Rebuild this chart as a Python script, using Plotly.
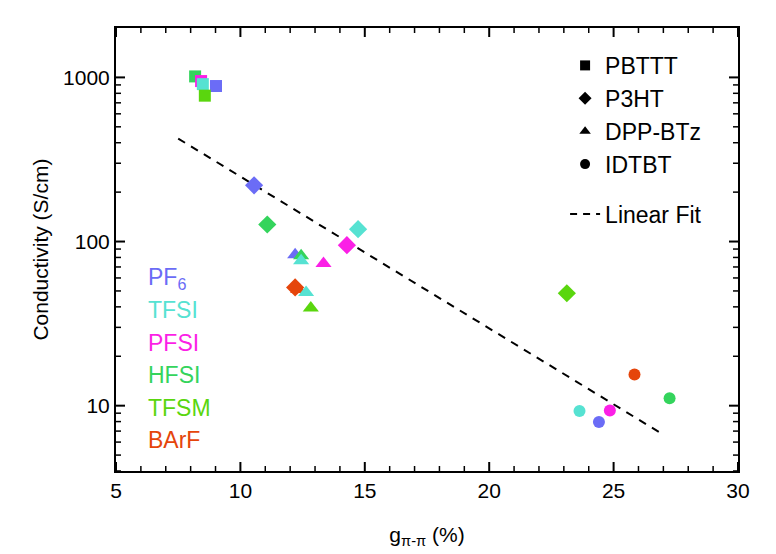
import math
import plotly.graph_objects as go

# anion colours
anions = ["PF6", "TFSI", "PFSI", "HFSI", "TFSM", "BArF"]
anion_labels = ["PF<sub>6</sub>", "TFSI", "PFSI", "HFSI", "TFSM", "BArF"]
anion_colors = ["#6b6cf6", "#56e2d2", "#fb1fe6", "#34d45c", "#5ad60e", "#e5450b"]
color_of = dict(zip(anions, anion_colors))

# PBTTT (squares)
pbttt_anion = ["HFSI", "PFSI", "TFSI", "PF6", "TFSM"]
pbttt_g = [8.18, 8.42, 8.49, 9.02, 8.57]
pbttt_cond = [1014, 950, 910, 886, 774]

# P3HT (diamonds)
p3ht_anion = ["PF6", "HFSI", "TFSI", "PFSI", "TFSM", "BArF"]
p3ht_g = [10.55, 11.08, 14.73, 14.28, 23.12, 12.2]
p3ht_cond = [220, 127, 119, 95, 48.4, 52.5]

# DPP-BTz (triangles)
dpp_anion = ["PF6", "HFSI", "TFSI", "PFSI", "BArF", "TFSI", "TFSM"]
dpp_g = [12.2, 12.44, 12.44, 13.34, 12.32, 12.64, 12.83]
dpp_cond = [83, 82, 76.4, 73.6, 51, 49, 39.3]

# IDTBT (circles)
idtbt_anion = ["BArF", "HFSI", "TFSI", "PFSI", "PF6"]
idtbt_g = [25.84, 27.25, 23.63, 24.85, 24.41]
idtbt_cond = [15.5, 11.1, 9.29, 9.36, 7.96]

# linear fit (log10 conductivity vs g)
fit_g = [7.5, 26.9]
fit_cond = [424, 6.8]

# axis ticks
x_major = [5, 10, 15, 20, 25, 30]
x_minor = [v for v in range(6, 30) if v % 5]
y_major = [10, 100, 1000]
y_minor = [m * d for d in (1, 10, 100) for m in range(2, 10) if m * d >= 4]

polymers = ["PBTTT", "P3HT", "DPP-BTz", "IDTBT"]
symbols = ["square", "diamond", "triangle-up", "circle"]
sizes = [12, 14, 14, 12]
series = [
    (pbttt_g, pbttt_cond, pbttt_anion),
    (p3ht_g, p3ht_cond, p3ht_anion),
    (dpp_g, dpp_cond, dpp_anion),
    (idtbt_g, idtbt_cond, idtbt_anion),
]

FONT = "Arial, Liberation Sans, sans-serif"
XR = [5, 30]
YR = [0.602, 3.301]
W, H = 768, 546
M = dict(l=108, r=38, t=20, b=83)
PW = W - M["l"] - M["r"]
PH = H - M["t"] - M["b"]

fig = go.Figure()

fig.add_trace(go.Scatter(x=fit_g, y=fit_cond, mode="lines",
                         line=dict(color="black", width=2, dash="8px,7px"),
                         showlegend=False, hoverinfo="skip"))

for (gx, cy, an), sym, sz in zip(series, symbols, sizes):
    fig.add_trace(go.Scatter(x=gx, y=cy, mode="markers", showlegend=False,
                             marker=dict(symbol=sym, size=sz,
                                         color=[color_of[a] for a in an],
                                         line=dict(width=0))))

# legend entries (black symbols)
for name, sym in zip(polymers, symbols):
    fig.add_trace(go.Scatter(x=[None], y=[None], mode="markers", name=name,
                             legendgroup="poly",
                             marker=dict(symbol=sym, size=10, color="black")))
fig.add_trace(go.Scatter(x=[None], y=[None], mode="lines", name="Linear Fit",
                         legendgroup="fit",
                         line=dict(color="black", width=2, dash="7px,6px")))

label_y = [0.435, 0.363, 0.289, 0.216, 0.142, 0.070]
for txt, col, yy in zip(anion_labels, anion_colors, label_y):
    fig.add_annotation(text=txt, x=0.048, y=yy, xref="paper", yref="paper",
                       xanchor="left", yanchor="middle", showarrow=False,
                       font=dict(size=23, color=col, family=FONT))

fig.add_annotation(text="Conductivity (S/cm)", textangle=-90, x=-0.122, y=0.5,
                   xref="paper", yref="paper", xanchor="center", yanchor="middle",
                   showarrow=False, font=dict(size=21, color="black", family=FONT))

fig.update_layout(
    xaxis=dict(range=XR, tickmode="array", tickvals=x_major, ticks="",
               showline=True, linecolor="black", linewidth=2, mirror=True,
               showgrid=False, zeroline=False,
               tickfont=dict(size=21, color="black", family=FONT),
               title=dict(text="g<sub>π-π</sub> (%)",
                          font=dict(size=21, family=FONT, color="black"), standoff=26)),
    yaxis=dict(type="log", range=YR, tickmode="array", tickvals=y_major,
               ticktext=[str(v) for v in y_major], ticks="",
               showline=True, linecolor="black", linewidth=2, mirror=True,
               showgrid=False, zeroline=False,
               tickfont=dict(size=21, color="black", family=FONT)),
)


def xfrac(v):
    return (v - XR[0]) / (XR[1] - XR[0])


def yfrac(v):
    return (math.log10(v) - YR[0]) / (YR[1] - YR[0])


# inward tick marks on all four sides, drawn as short lines in paper coordinates
for vals, tlen, w in [(x_major, 9, 2), (x_minor, 5, 1.5)]:
    f = tlen / PH
    for v in vals:
        px = xfrac(v)
        fig.add_shape(type="line", xref="paper", yref="paper", x0=px, x1=px, y0=0, y1=f,
                      line=dict(color="black", width=w), layer="above")
        fig.add_shape(type="line", xref="paper", yref="paper", x0=px, x1=px, y0=1, y1=1 - f,
                      line=dict(color="black", width=w), layer="above")
for vals, tlen, w in [(y_major, 9, 2), (y_minor, 5, 1.5)]:
    f = tlen / PW
    for v in vals:
        py = yfrac(v)
        fig.add_shape(type="line", xref="paper", yref="paper", x0=0, x1=f, y0=py, y1=py,
                      line=dict(color="black", width=w), layer="above")
        fig.add_shape(type="line", xref="paper", yref="paper", x0=1, x1=1 - f, y0=py, y1=py,
                      line=dict(color="black", width=w), layer="above")

# page body adds an 8px offset, so the figure is 8px smaller than the window
fig.update_layout(
    width=W, height=H,
    margin=M,
    paper_bgcolor="white", plot_bgcolor="white",
    showlegend=True,
    legend=dict(x=0.722, y=0.964, xanchor="left", yanchor="top",
                font=dict(size=23, color="black", family=FONT),
                bgcolor="rgba(0,0,0,0)", traceorder="grouped",
                tracegroupgap=17, itemwidth=30),
)

fig.write_html("out.html")
